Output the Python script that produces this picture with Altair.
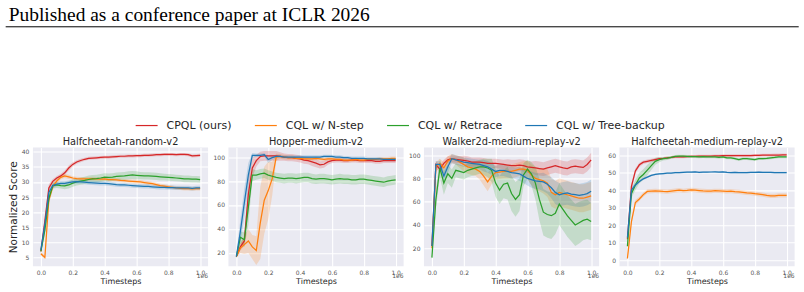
import altair as alt
import pandas as pd

# Timesteps (in units of 1e6)
T = [0.0, 0.025, 0.05, 0.075, 0.1, 0.125, 0.15, 0.175, 0.2, 0.225,
     0.25, 0.275, 0.3, 0.325, 0.35, 0.375, 0.4, 0.425, 0.45, 0.475,
     0.5, 0.525, 0.55, 0.575, 0.6, 0.625, 0.65, 0.675, 0.7, 0.725,
     0.75, 0.775, 0.8, 0.825, 0.85, 0.875, 0.9, 0.925, 0.95, 0.975, 1.0]

METHODS = ["CPQL (ours)", "CQL w/ N-step", "CQL w/ Retrace", "CQL w/ Tree-backup"]
COLORS = ["#d62728", "#ff7f0e", "#2ca02c", "#1f77b4"]

# ---------------- Halfcheetah-random-v2 ----------------
hcr_red = [7.0, 17.0, 28.0, 30.2, 31.3, 32.0, 33.0, 34.6, 35.8, 36.6, 37.1, 37.5, 37.8, 37.9, 38.0, 38.1, 38.2, 38.2, 38.3, 38.4,
           38.5, 38.5, 38.6, 38.6, 38.7, 38.7, 38.8, 38.8, 38.9, 39.0, 39.0, 39.1, 39.1, 39.1, 39.0, 39.1, 39.1, 39.0, 38.6, 38.7, 38.8]
hcr_orange = [6.2, 5.0, 24.0, 28.5, 30.3, 31.5, 32.0, 31.7, 31.3, 31.1, 31.0, 31.0, 31.0, 31.1, 31.0, 30.9, 31.0, 30.8, 30.8, 30.7,
              30.5, 30.4, 30.3, 30.2, 30.1, 30.0, 29.8, 29.6, 29.4, 29.1, 28.8, 28.6, 28.4, 28.2, 28.0, 27.9, 27.8, 27.8, 27.7, 27.8, 27.8]
hcr_green = [7.0, 14.0, 24.5, 28.8, 29.0, 28.8, 28.7, 29.0, 29.6, 30.0, 30.3, 30.5, 30.8, 31.0, 31.1, 31.3, 31.6, 31.5, 31.6, 31.8,
             31.9, 32.0, 32.2, 32.3, 32.2, 32.1, 32.0, 32.0, 31.9, 31.8, 31.7, 31.6, 31.5, 31.4, 31.3, 31.2, 31.0, 31.0, 30.9, 30.9, 30.8]
hcr_blue = [7.5, 16.0, 26.5, 28.8, 29.3, 29.5, 29.5, 29.8, 30.0, 30.1, 30.0, 29.9, 29.8, 29.7, 29.6, 29.5, 29.5, 29.4, 29.3, 29.1,
            29.0, 29.0, 28.9, 28.8, 28.7, 28.6, 28.5, 28.5, 28.4, 28.3, 28.2, 28.2, 28.1, 28.1, 28.0, 28.0, 28.0, 28.0, 27.9, 28.0, 28.0]
hcr_red_sd = [0.4, 1.5, 1.2, 0.8, 0.7, 0.7, 0.8, 0.8, 0.7, 0.6, 0.6, 0.5, 0.5, 0.5, 0.5, 0.5, 0.5, 0.5, 0.5, 0.5,
              0.5, 0.5, 0.5, 0.5, 0.5, 0.5, 0.5, 0.5, 0.5, 0.5, 0.5, 0.5, 0.5, 0.5, 0.5, 0.5, 0.5, 0.5, 0.5, 0.5, 0.5]
hcr_orange_sd = [0.6, 0.6, 1.5, 1.0, 0.8, 0.7, 0.7, 0.7, 0.6, 0.6, 0.6, 0.6, 0.6, 0.6, 0.6, 0.6, 0.6, 0.6, 0.6, 0.6,
                 0.6, 0.6, 0.6, 0.6, 0.6, 0.6, 0.6, 0.6, 0.6, 0.6, 0.6, 0.6, 0.6, 0.6, 0.6, 0.6, 0.6, 0.6, 0.6, 0.6, 0.6]
hcr_green_sd = [0.5, 1.5, 1.5, 1.0, 1.0, 1.0, 1.1, 1.2, 1.2, 1.2, 1.2, 1.2, 1.3, 1.3, 1.3, 1.3, 1.3, 1.3, 1.3, 1.3,
                1.3, 1.3, 1.3, 1.3, 1.3, 1.2, 1.2, 1.2, 1.2, 1.2, 1.2, 1.1, 1.1, 1.1, 1.1, 1.1, 1.1, 1.1, 1.1, 1.1, 1.1]
hcr_blue_sd = [0.5, 1.5, 1.5, 0.8, 0.7, 0.7, 0.7, 0.7, 0.7, 0.7, 0.7, 0.7, 0.7, 0.7, 0.7, 0.7, 0.7, 0.7, 0.7, 0.7,
               0.7, 0.7, 0.7, 0.7, 0.7, 0.7, 0.7, 0.7, 0.7, 0.7, 0.7, 0.7, 0.7, 0.7, 0.7, 0.7, 0.7, 0.7, 0.7, 0.7, 0.7]

# ---------------- Hopper-medium-v2 ----------------
hop_red = [17, 25, 30, 69, 91, 97, 100.5, 101, 101, 101, 101, 100.5, 100, 99.5, 99.5, 99, 98.5, 97.5, 97, 96,
           95, 93.5, 94, 96, 97, 97.5, 97.5, 97, 97, 97.5, 97.5, 97, 97, 97, 97, 96.5, 96.5, 97, 97, 97, 97]
hop_orange = [17, 24, 27, 30, 25, 22, 45, 64, 72, 82, 100, 100.5, 100, 99.5, 99.5, 99, 99, 98.5, 98.5, 98.5,
              99, 98.5, 98, 98.5, 98.5, 98, 98, 97.5, 97.5, 97.5, 98, 97.5, 97.5, 98, 98, 98, 98.5, 98.5, 98.5, 99, 99]
hop_green = [17, 33, 31, 58, 85, 85, 86, 86.5, 85, 84, 83, 82.5, 82, 82.5, 82.5, 82, 82.5, 83, 83, 82,
             81.5, 82, 82, 81.5, 81, 81.5, 82, 81.5, 81.5, 81, 81, 81.5, 81.5, 81, 80.5, 80, 79.5, 79, 80, 80.5, 81]
hop_blue = [17, 38, 62, 85, 101.5, 101.5, 101.5, 102, 98, 99.5, 100.5, 100.5, 100, 100, 100, 100, 100, 100, 100, 100,
            100, 100, 100.5, 100.5, 100.5, 100, 100, 99.5, 99.5, 99, 99, 99, 99, 98.5, 98.5, 98.5, 98.5, 98, 98, 98, 98]
hop_red_sd = [1, 3, 4, 15, 8, 5, 4, 4, 4, 4, 4, 3.5, 3, 3, 3, 3, 3, 3, 3, 3.5,
              3.5, 3, 3, 2.5, 2, 2, 2, 2, 2, 2, 2, 2, 2, 2, 2, 2, 2, 2, 2, 2, 2]
hop_orange_sd = [1, 4, 8, 10, 10, 12, 30, 28, 24, 14, 3, 2, 2, 2, 2, 1.5, 1.5, 1.5, 1.5, 1.5,
                 1.5, 1.5, 1.5, 1.5, 1.5, 1.5, 1.5, 1.5, 1.5, 1.5, 1.5, 1.5, 1.5, 1.5, 1.5, 1.5, 1.5, 1.5, 1.5, 1.5, 1.5]
hop_green_sd = [1, 5, 6, 15, 5, 4, 4, 4, 4, 4, 4, 4, 4, 4, 4, 4, 4, 4, 4, 4,
                4, 4, 4, 4, 4, 4, 4, 4, 4, 4, 4, 4, 4, 4, 4, 4, 4, 4, 4, 4, 4]
hop_blue_sd = [1, 10, 12, 10, 2, 1.5, 1.5, 1.5, 3, 2, 1.5, 1.5, 1.5, 1.5, 1.5, 1.5, 1.5, 1.5, 1.5, 1.5,
               1.5, 1.5, 1.5, 1.5, 1.5, 1.5, 1.5, 1.5, 1.5, 1.5, 1.5, 1.5, 1.5, 1.5, 1.5, 1.5, 1.5, 1.5, 1.5, 1.5, 1.5]

# ---------------- Walker2d-medium-replay-v2 ----------------
wmr_red = [22, 92, 88, 93, 96, 97, 96.5, 96, 95.5, 95, 94, 94, 94, 93.5, 93, 93, 93, 92.5, 92, 91.5,
           91, 91, 91.5, 91, 90, 89.5, 89, 88.5, 88, 89, 90, 91, 90, 89, 88.5, 90, 90.5, 90, 89.5, 92, 96]
wmr_orange = [20, 90, 93, 89, 95, 97, 96, 94, 92, 90, 89, 88, 86, 82, 77, 82, 85, 85.5, 86, 86,
              86, 87, 88, 88, 87, 83, 80, 79, 78, 76, 68, 66, 68, 67, 66, 65, 64, 63, 63, 64, 65]
wmr_green = [12, 62, 89, 76, 84, 80, 87, 86, 85, 87, 88, 89, 90, 90, 89, 87, 76, 70, 75, 76,
             67, 62, 66, 83, 88, 84, 76, 62, 51, 49, 48, 50, 58, 53, 48, 44, 40, 42, 44, 45, 43]
wmr_blue = [22, 92, 92, 82, 90, 97, 96, 95, 94, 93.5, 93, 92.5, 92, 91, 90, 88, 86, 87, 87, 86,
            85, 84.5, 84, 82, 80, 79, 78, 77.5, 77, 75, 72, 68, 66, 67, 67.5, 66.5, 66, 65.5, 66, 67, 69]
wmr_red_sd = [2, 3, 3, 3, 3, 3, 3, 3, 4, 4, 4, 4, 4, 4, 4, 4, 4, 4, 4, 5,
              5, 5, 5, 5, 5, 5, 6, 6, 6, 6, 6, 6, 6, 6, 6, 6, 6, 6, 6, 6, 6]
wmr_orange_sd = [2, 4, 4, 5, 4, 4, 4, 5, 6, 6, 6, 6, 7, 8, 8, 7, 6, 6, 6, 6,
                 6, 6, 6, 7, 8, 9, 10, 10, 11, 12, 12, 12, 12, 12, 12, 12, 12, 12, 12, 12, 12]
wmr_green_sd = [2, 8, 8, 10, 8, 8, 6, 6, 6, 6, 6, 6, 6, 7, 8, 10, 12, 12, 12, 14,
                15, 15, 14, 10, 8, 10, 14, 18, 20, 20, 20, 18, 18, 18, 18, 18, 18, 18, 17, 17, 16]
wmr_blue_sd = [2, 3, 3, 6, 5, 4, 4, 4, 4, 4, 4, 4, 4, 5, 5, 5, 5, 5, 5, 5,
               5, 5, 6, 6, 6, 7, 7, 7, 8, 8, 9, 10, 10, 10, 10, 10, 10, 10, 10, 10, 10]

# ---------------- Halfcheetah-medium-replay-v2 ----------------
hcm_red = [12, 42, 51, 54.5, 56, 56.5, 57, 57.5, 58, 58.2, 58.5, 58.7, 59, 59, 59.1, 59.2, 59.3, 59.3, 59.4, 59.5,
           59.5, 59.5, 59.6, 59.6, 59.7, 59.7, 59.7, 59.8, 59.8, 59.8, 59.8, 59.8, 59.9, 59.9, 60, 60, 60, 60.1, 60.1, 60.2, 60.2]
hcm_orange = [1, 22, 33, 35, 37.5, 39.3, 39.5, 39.6, 39.5, 39.3, 39.2, 39.5, 39.8, 40, 39.7, 39.9, 40.2, 40, 39.8, 39.6,
              39.5, 39.5, 39.7, 39.6, 39.5, 39.3, 39.5, 39.2, 39, 38.8, 38.5, 38.3, 38, 37.8, 37.5, 37, 36.8, 36.8, 37, 37, 37]
hcm_green = [8, 38, 43, 47, 49, 51.5, 54, 56.5, 57.5, 58, 58.3, 58.8, 59.3, 59.5, 59.4, 59.3, 59.2, 59.2, 59, 59.2,
             59, 59, 59, 58.8, 59, 58.5, 58.5, 58, 57.5, 58, 58, 57.8, 57.5, 58, 58, 58.2, 58.5, 58.7, 59, 59, 59]
hcm_blue = [13, 40, 43, 45, 46.5, 47.5, 48.5, 49, 49.3, 49.5, 49.7, 49.8, 50, 50.1, 50.2, 50.3, 50.3, 50.5, 50.2, 50.3,
            50.3, 50.4, 50.5, 50.3, 50.5, 50.2, 50, 50.2, 50, 50, 50.1, 50.2, 50.2, 50.3, 50.2, 50.2, 50.2, 50.1, 50, 50, 50]
hcm_red_sd = [1, 2, 1.5, 1.2, 1, 1, 0.9, 0.9, 0.8, 0.8, 0.8, 0.8, 0.8, 0.8, 0.8, 0.8, 0.8, 0.8, 0.8, 0.8,
              0.8, 0.8, 0.8, 0.8, 0.8, 0.8, 0.8, 0.8, 0.8, 0.8, 0.8, 0.8, 0.8, 0.8, 0.8, 0.8, 0.8, 0.8, 0.8, 0.8, 0.8]
hcm_orange_sd = [1, 2, 1.5, 1.2, 1.2, 1.2, 1.2, 1.2, 1.2, 1.2, 1.2, 1.2, 1.2, 1.2, 1.2, 1.2, 1.2, 1.2, 1.2, 1.2,
                 1.2, 1.2, 1.2, 1.2, 1.2, 1.2, 1.2, 1.2, 1.2, 1.2, 1.2, 1.2, 1.2, 1.2, 1.2, 1.2, 1.2, 1.2, 1.2, 1.2, 1.2]
hcm_green_sd = [1, 2.5, 3, 3, 3, 3, 2.5, 2, 1.5, 1, 1, 0.8, 0.8, 0.8, 0.8, 0.8, 0.8, 0.8, 0.8, 0.8,
                0.8, 0.8, 0.8, 0.8, 0.8, 0.8, 0.8, 0.8, 0.8, 0.8, 0.8, 0.8, 0.8, 0.8, 0.8, 0.8, 0.8, 0.8, 0.8, 0.8, 0.8]
hcm_blue_sd = [1, 2, 1, 0.7, 0.6, 0.5, 0.5, 0.5, 0.5, 0.5, 0.5, 0.5, 0.5, 0.5, 0.5, 0.5, 0.5, 0.5, 0.5, 0.5,
               0.5, 0.5, 0.5, 0.5, 0.5, 0.5, 0.5, 0.5, 0.5, 0.5, 0.5, 0.5, 0.5, 0.5, 0.5, 0.5, 0.5, 0.5, 0.5, 0.5, 0.5]

PANELS = [
    ("Halfcheetah-random-v2", [hcr_red, hcr_orange, hcr_green, hcr_blue],
     [hcr_red_sd, hcr_orange_sd, hcr_green_sd, hcr_blue_sd], [2.1, 41.4], [5, 10, 15, 20, 25, 30, 35, 40]),
    ("Hopper-medium-v2", [hop_red, hop_orange, hop_green, hop_blue],
     [hop_red_sd, hop_orange_sd, hop_green_sd, hop_blue_sd], [8.9, 108.0], [20, 40, 60, 80, 100]),
    ("Walker2d-medium-replay-v2", [wmr_red, wmr_orange, wmr_green, wmr_blue],
     [wmr_red_sd, wmr_orange_sd, wmr_green_sd, wmr_blue_sd], [4.6, 106.6], [20, 40, 60, 80, 100]),
    ("Halfcheetah-medium-replay-v2", [hcm_red, hcm_orange, hcm_green, hcm_blue],
     [hcm_red_sd, hcm_orange_sd, hcm_green_sd, hcm_blue_sd], [-3.4, 64.4], [0, 10, 20, 30, 40, 50, 60]),
]

X_TICKS = [0.0, 0.2, 0.4, 0.6, 0.8, 1.0]
W, H = 175.6, 119
FONT = "DejaVu Sans"

color_scale = alt.Scale(domain=METHODS, range=COLORS)


def make_panel(i, title, means, sds, ydom, yticks):
    rows = []
    for k, (m, c, mean, sd) in enumerate(zip(METHODS, COLORS, means, sds)):
        for t, v, s in zip(T, mean, sd):
            rows.append({"method": m, "col": c, "t": t, "mean": v, "lo": v - s, "hi": v + s})
    df = pd.DataFrame(rows)
    xenc = alt.X("t:Q", scale=alt.Scale(domain=[-0.05, 1.05], nice=False, zero=False),
                 axis=alt.Axis(values=X_TICKS, format=".1f", title="Timesteps"))
    yaxis = alt.Axis(values=yticks, title="Normalized Score" if i == 0 else None)
    yscale = alt.Scale(domain=ydom, nice=False, zero=False)
    bands = alt.Chart(df).mark_area(opacity=0.2).encode(
        x=xenc,
        y=alt.Y("lo:Q", scale=yscale, axis=yaxis, stack=None),
        y2="hi:Q",
        fill=alt.Fill("col:N", scale=None),
        detail="method:N",
    )
    lines = alt.Chart(df).mark_line(strokeWidth=1.25).encode(
        x=xenc,
        y=alt.Y("mean:Q", scale=yscale, axis=yaxis),
        color=alt.Color("method:N", scale=color_scale, sort=METHODS,
                        legend=alt.Legend(
                            title=None, orient="none", legendX=102, legendY=-34,
                            direction="horizontal", symbolType="stroke", symbolSize=484,
                            symbolStrokeWidth=1.2, labelFont=FONT, labelFontSize=11,
                            labelColor="#262626", columnPadding=19.5, labelOffset=8)),
    )
    one = pd.DataFrame({"a": [0]})
    offset = alt.Chart(one).mark_text(align="right", baseline="middle", fontSize=6,
                                      color="#555555", font=FONT).encode(
        x=alt.value(W), y=alt.value(H + 9.8), text=alt.value("1e6"))
    ttl = alt.Chart(one).mark_text(align="center", baseline="alphabetic", fontSize=9.8,
                                   color="#262626", font=FONT).encode(
        x=alt.value(W / 2), y=alt.value(-2.5), text=alt.value(title))
    layers = [bands, lines, offset, ttl]
    if i == 0:
        header = alt.Chart(one).mark_text(align="left", baseline="alphabetic", fontSize=19.5,
                                          font="Liberation Serif", color="#000000").encode(
            x=alt.value(-24.3), y=alt.value(-127),
            text=alt.value("Published as a conference paper at ICLR 2026"))
        rule = alt.Chart(one).mark_rule(color="#000000", strokeWidth=1).encode(
            x=alt.value(-27.3), x2=alt.value(767.7), y=alt.value(-121))
        layers += [header, rule]
    return alt.layer(*layers).properties(width=W, height=H)


panels = [make_panel(i, *p) for i, p in enumerate(PANELS)]

chart = alt.hconcat(*panels, spacing=20, bounds="flush").resolve_scale(
    x="independent", y="independent", color="shared"
).properties(
    padding={"left": 5, "top": 4.5, "right": 4, "bottom": 2}
).configure_view(
    fill="#EAEAF2", stroke=None
).configure_axis(
    grid=True, gridColor="#FFFFFF", gridWidth=1.1, domain=False, ticks=False,
    labelFont=FONT, labelFontSize=6, labelColor="#555555", labelPadding=3,
    titleFont=FONT, titleFontWeight="normal", titleColor="#262626",
).configure_axisX(
    titleFontSize=8, titlePadding=2,
).configure_axisY(
    titleFontSize=10.5, titlePadding=3, labelPadding=4,
)

chart.save("out.html", embed_options={"renderer": "svg", "actions": False})
